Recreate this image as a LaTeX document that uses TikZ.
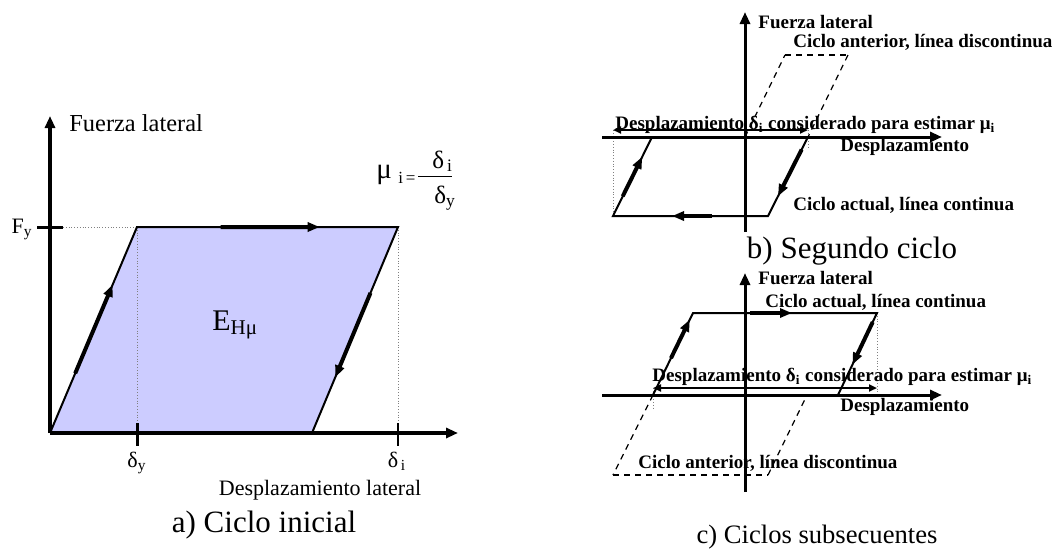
\documentclass[tikz,border=0pt]{standalone}
\usepackage{fontspec}
\setmainfont{Liberation Serif}
\usetikzlibrary{arrows.meta,calc}
\definecolor{lavanda}{RGB}{204,204,255}
\tikzset{
  axisa/.style    = {line width=2pt, -{Triangle[length=6pt,width=5pt]}},
  axisb/.style    = {line width=1.5pt, -{Triangle[length=6pt,width=5pt]}},
  cyc/.style      = {line width=1pt},
  flow/.style     = {line width=2pt, -{Triangle[length=6pt,width=4.5pt]}},
  prev/.style     = {line width=0.6pt, dash pattern=on 3pt off 2.5pt},
  guide/.style    = {densely dotted, gray, line width=0.4pt},
  tickmark/.style = {line width=1.5pt},
  dimline/.style  = {line width=1pt, {Triangle[length=4pt,width=3.5pt]}-{Triangle[length=4pt,width=3.5pt]}},
  lbl/.style      = {font=\fontsize{11}{13}\selectfont, inner sep=0pt},
  frac/.style     = {font=\fontsize{12.5}{14}\selectfont, inner sep=0pt},
  sub/.style      = {font=\fontsize{8.5}{10}\selectfont, inner sep=0pt},
  blbl/.style     = {font=\fontsize{9.5}{11}\selectfont\bfseries, inner sep=0pt},
  capt/.style     = {font=\fontsize{15.5}{18}\selectfont, inner sep=0pt},
}

\begin{document}
\begin{tikzpicture}[x=0.5pt,y=-0.5pt]
  \useasboundingbox (0,0) rectangle (1057,548);
  % a) ciclo inicial
  \coordinate (oa) at (50,433);
  \coordinate (ya) at (137,227);
  \coordinate (ua) at (398,227);
  \coordinate (da) at (312,433);
  \fill[lavanda] (oa) -- (ya) -- (ua) -- (da) -- cycle;
  \draw[guide] (63,227) -- (160,227);
  \draw[guide] (ya) -- (137,433);
  \draw[guide] (ua) -- (398,433);
  \draw[cyc] (oa) -- (ya) -- (ua) -- (da);
  \draw[axisa] (oa) -- (50,116);
  \draw[axisa] (oa) -- (458,433);
  \draw[tickmark] (37,227) -- (63,227);
  \draw[tickmark] (137,423) -- (137,446);
  \draw[line width=1pt] (398,423) -- (398,446);
  \draw[flow] ($(oa)!0.29!(ya)$) -- ($(oa)!0.72!(ya)$);
  \draw[flow] ($(ya)!0.32!(ua)$) -- ($(ya)!0.70!(ua)$);
  \draw[flow] ($(ua)!0.32!(da)$) -- ($(ua)!0.73!(da)$);
  \node[lbl, font=\fontsize{12.2}{14}\selectfont, anchor=base west] (fuerzaa) at (69,131) {Fuerza lateral};
  \node[lbl, anchor=base east] (fy) at (33,233) {F\textsubscript{y}};
  \node[lbl, anchor=base] (dy) at (137,467) {δ\textsubscript{y}};
  \node[lbl, anchor=base] (di) at (397,467) {δ\textsubscript{\,i}};
  \node[lbl, anchor=base] (despa) at (320,495) {Desplazamiento lateral};
  \node[frac, font=\fontsize{14.5}{16}\selectfont, anchor=base west] (mu) at (376,178) {μ};
  \node[sub, anchor=base west] (mui) at (398,183) {i\,=};
  \coordinate (barl) at (418,176);
  \coordinate (barr) at (452,176);
  \draw[line width=0.5pt] (barl) -- (barr);
  \node[frac, anchor=base west] (num) at (432,168) {δ\textsubscript{\,i}};
  \node[frac, anchor=base west] (den) at (434,203) {δ\textsubscript{y}};
  \node[font=\fontsize{15}{18}\selectfont, inner sep=0pt, anchor=base west] (eh) at (212,330)
    {E\textsubscript{Hμ}};
  \node[capt, anchor=base] (capa) at (264,532) {a) Ciclo inicial};
  % b) segundo ciclo
  \coordinate (ob) at (745,137);
  \coordinate (pb1) at (613,216);
  \coordinate (pb2) at (768,216);
  \coordinate (pb3) at (808,137);
  \coordinate (pb4) at (652,137);
  \coordinate (qb1) at (785,55);
  \coordinate (qb2) at (848,55);
  \draw[guide] (613,130) -- (pb1);
  \draw[guide] (808,130) -- (808,148);
  \draw[axisb] (745,232) -- (745,12);
  \draw[axisb] (602,137) -- (942,137);
  \draw[prev] (ob) -- (qb1);
  \draw[prev] (qb2) -- (pb3);
  \draw[prev, line width=1pt] (qb1) -- (qb2);
  \draw[cyc] (pb4) -- (pb1) -- (pb2) -- (pb3);
  \draw[flow] ($(pb1)!0.25!(pb4)$) -- ($(pb1)!0.75!(pb4)$);
  \draw[flow] ($(pb3)!0.16!(pb2)$) -- ($(pb3)!0.75!(pb2)$);
  \draw[flow] (712,216) -- (672,216);
  \draw[dimline] (613,130) -- (808,130);
  \node[blbl, anchor=west] (fuerzab) at (758,22) {Fuerza lateral};
  \node[blbl, anchor=west] (antb) at (793,42) {Ciclo anterior, línea discontinua};
  \node[blbl, anchor=base west] (dib) at (615,129)
    {Desplazamiento δ\textsubscript{i} considerado para estimar μ\textsubscript{i}};
  \node[blbl, anchor=west] (despb) at (840,147) {Desplazamiento};
  \node[blbl, anchor=west] (actb) at (793,205) {Ciclo actual, línea continua};
  \node[capt, anchor=base] (capb) at (852,258) {b) Segundo ciclo};
  % c) ciclos subsecuentes
  \coordinate (oc) at (745,395);
  \coordinate (pc1) at (653,395);
  \coordinate (pc2) at (693,313);
  \coordinate (pc3) at (877,313);
  \coordinate (pc4) at (838,395);
  \coordinate (qc1) at (613,475);
  \coordinate (qc2) at (768,475);
  \coordinate (qc3) at (807,395);
  \draw[guide] (pc3) -- (877,395);
  \draw[guide] (653,388) -- (653,408);
  \draw[axisb] (745,492) -- (745,273);
  \draw[axisb] (602,395) -- (942,395);
  \draw[prev] (pc1) -- (qc1);
  \draw[prev] (qc2) -- (qc3);
  \draw[prev, line width=1pt] (qc1) -- (qc2);
  \draw[cyc] (pc1) -- (pc2) -- (pc3) -- (pc4);
  \draw[flow] ($(pc1)!0.45!(pc2)$) -- ($(pc1)!0.92!(pc2)$);
  \draw[flow] (750,313) -- (792,313);
  \draw[flow] ($(pc3)!0.11!(pc4)$) -- ($(pc3)!0.63!(pc4)$);
  \draw[dimline] (653,388) -- (877,388);
  \node[blbl, anchor=west] (fuerzac) at (758,278) {Fuerza lateral};
  \node[blbl, anchor=west] (actc) at (765,302) {Ciclo actual, línea continua};
  \node[blbl, anchor=base west] (dic) at (652,381)
    {Desplazamiento δ\textsubscript{i} considerado para estimar μ\textsubscript{i}};
  \node[blbl, anchor=west] (despc) at (840,407) {Desplazamiento};
  \node[blbl, anchor=west] (antc) at (638,463) {Ciclo anterior, línea discontinua};
  \node[capt, anchor=base, font=\fontsize{13.3}{16}\selectfont] (capc) at (817,543) {c) Ciclos subsecuentes};
\end{tikzpicture}
\end{document}
